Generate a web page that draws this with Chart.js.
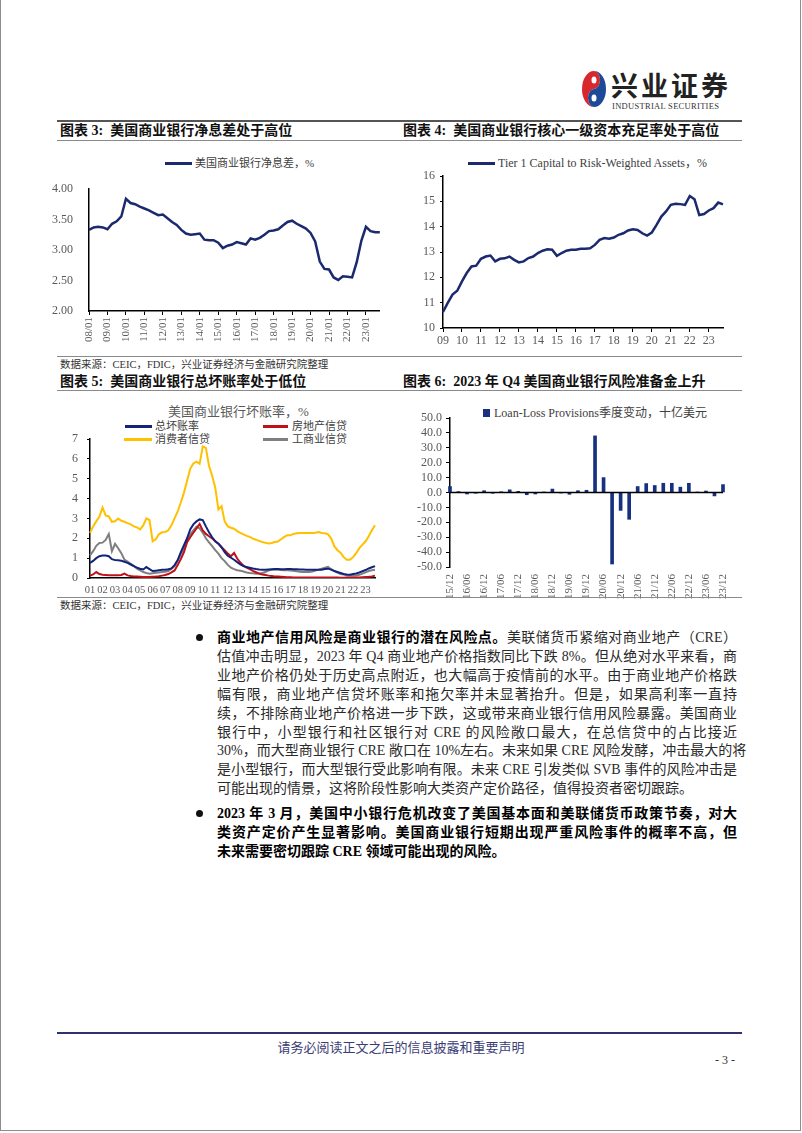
<!DOCTYPE html>
<html>
<head>
<meta charset="utf-8">
<script src="https://cdn.jsdelivr.net/npm/chart.js@4.4.0/dist/chart.umd.min.js"></script>
<style>
body{margin:0;width:802px;height:1133px;position:relative;background:#fff;overflow:hidden;
  font-family:'Liberation Serif','Noto Sans CJK SC',serif;color:#222}
.a{position:absolute;white-space:nowrap}
.hr{position:absolute;left:57px;width:685px;height:0;border-top:1px solid #8a8a8a}
.ttl{font-size:14px;line-height:16px;font-weight:bold;color:#111}
.src{font-size:10.5px;line-height:12px;color:#333}
.leg{font-size:11px;line-height:12px;color:#404040}
.ln{position:absolute;height:3px}
.para{position:absolute;left:217px;width:520px;font-size:14px;line-height:18.9px;color:#2a2a2a}
.para div{text-align:justify;text-align-last:justify;white-space:nowrap}
.para div.end{text-align-last:left}
.dot{position:absolute;left:196px;width:7px;height:7px;border-radius:50%;background:#111}
</style>
</head>
<body>
<div class="a" style="left:0;top:-2px;width:799px;height:1132px;border:1px solid #8c8c8c;border-top:none"></div>

<svg class="a" style="left:581px;top:70px" width="26" height="38" viewBox="0 0 26 38">
  <path d="M13 1 A12 18 0 0 0 13 37 A6 9 0 0 1 13 19 A6 9 0 0 0 13 1 Z" fill="#d8282e"/>
  <path d="M13 37 A12 18 0 0 0 13 1 A6 9 0 0 1 13 19 A6 9 0 0 0 13 37 Z" fill="#1d4a98"/>
  <ellipse cx="13" cy="10" rx="2.5" ry="3.5" fill="#fff"/>
  <ellipse cx="13" cy="28" rx="2.5" ry="3.5" fill="#fff"/>
</svg>
<div class="a" style="left:611px;top:72px;font-size:27px;line-height:30px;font-weight:bold;letter-spacing:3px;color:#222">兴业证券</div>
<div class="a" style="left:612px;top:101px;font-size:8.5px;line-height:10px;color:#333;letter-spacing:0.3px">INDUSTRIAL SECURITIES</div>

<div class="hr" style="top:120px;border-top:2px solid #555"></div>
<div class="a ttl" style="left:60px;top:123px">图表 3:&nbsp; 美国商业银行净息差处于高位</div>
<div class="a ttl" style="left:403px;top:123px">图表 4:&nbsp; 美国商业银行核心一级资本充足率处于高位</div>
<div class="hr" style="top:140px"></div>

<div class="ln" style="left:165px;top:162px;width:27px;background:#1b2a6e"></div>
<div class="a leg" style="left:195px;top:157px">美国商业银行净息差，%</div>
<div class="a" style="left:50px;top:150px"><canvas id="c3" width="345" height="200"></canvas></div>

<div class="ln" style="left:468px;top:162px;width:27px;background:#1b2a6e"></div>
<div class="a leg" style="left:498px;top:156px;font-size:12px;line-height:14px">Tier 1 Capital to Risk-Weighted Assets，%</div>
<div class="a" style="left:400px;top:150px"><canvas id="c4" width="340" height="200"></canvas></div>

<div class="hr" style="top:356px"></div>
<div class="a src" style="left:60px;top:359px">数据来源：CEIC，FDIC，兴业证券经济与金融研究院整理</div>
<div class="a ttl" style="left:60px;top:374px">图表 5:&nbsp; 美国商业银行总坏账率处于低位</div>
<div class="a ttl" style="left:403px;top:374px">图表 6:&nbsp; 2023 年 Q4 美国商业银行风险准备金上升</div>
<div class="hr" style="top:390px"></div>

<div class="a" style="left:168px;top:405px;font-size:13px;line-height:14px;color:#595959">美国商业银行坏账率，%</div>
<div class="ln" style="left:125px;top:425px;width:27px;background:#13237a"></div>
<div class="a leg" style="left:155px;top:420px">总坏账率</div>
<div class="ln" style="left:263px;top:425px;width:25px;background:#c0111a"></div>
<div class="a leg" style="left:292px;top:420px">房地产信贷</div>
<div class="ln" style="left:124px;top:438px;width:28px;background:#ffc000"></div>
<div class="a leg" style="left:155px;top:433px">消费者信贷</div>
<div class="ln" style="left:263px;top:438px;width:25px;background:#7f7f7f"></div>
<div class="a leg" style="left:292px;top:433px">工商业信贷</div>
<div class="a" style="left:50px;top:400px"><canvas id="c5" width="340" height="196"></canvas></div>

<div class="a" style="left:483px;top:409px;width:7px;height:8px;background:#17307f"></div>
<div class="a leg" style="left:494px;top:406px;font-size:12px;line-height:14px">Loan-Loss Provisions季度变动，十亿美元</div>
<div class="a" style="left:400px;top:400px"><canvas id="c6" width="340" height="208"></canvas></div>

<div class="hr" style="top:597px"></div>
<div class="a src" style="left:60px;top:600px">数据来源：CEIC，FDIC，兴业证券经济与金融研究院整理</div>

<div class="dot" style="top:634px"></div>
<div class="para" style="top:629px">
  <div><b style="color:#000">商业地产信用风险是商业银行的潜在风险点。</b>美联储货币紧缩对商业地产（CRE）</div>
  <div>估值冲击明显，2023 年 Q4 商业地产价格指数同比下跌 8%。但从绝对水平来看，商</div>
  <div>业地产价格仍处于历史高点附近，也大幅高于疫情前的水平。由于商业地产价格跌</div>
  <div>幅有限，商业地产信贷坏账率和拖欠率并未显著抬升。但是，如果高利率一直持</div>
  <div>续，不排除商业地产价格进一步下跌，这或带来商业银行信用风险暴露。美国商业</div>
  <div>银行中，小型银行和社区银行对 CRE 的风险敞口最大，在总信贷中的占比接近</div>
  <div>30%，而大型商业银行 CRE 敞口在 10%左右。未来如果 CRE 风险发酵，冲击最大的将</div>
  <div>是小型银行，而大型银行受此影响有限。未来 CRE 引发类似 SVB 事件的风险冲击是</div>
  <div class="end">可能出现的情景，这将阶段性影响大类资产定价路径，值得投资者密切跟踪。</div>
</div>
<div class="dot" style="top:810px"></div>
<div class="para" style="top:805px;font-weight:bold;color:#000">
  <div>2023 年 3 月，美国中小银行危机改变了美国基本面和美联储货币政策节奏，对大</div>
  <div>类资产定价产生显著影响。美国商业银行短期出现严重风险事件的概率不高，但</div>
  <div class="end">未来需要密切跟踪 CRE 领域可能出现的风险。</div>
</div>

<div class="hr" style="top:1032px;border-top:2px solid #2e3270"></div>
<div class="a" style="left:0;width:802px;text-align:center;top:1040px;font-size:13px;line-height:15px;color:#3a3d74">请务必阅读正文之后的信息披露和重要声明</div>
<div class="a" style="left:715px;top:1053px;font-size:12px;line-height:14px;color:#333">- 3 -</div>

<script>
// 净息差 (quarterly, 2008Q1 - 2023Q4)
const nimYears = ['08','09','10','11','12','13','14','15','16','17','18','19','20','21','22','23'];
const nimValues = [
  3.33,3.37,3.38,3.37,3.34,3.43,3.47,3.55,
  3.84,3.77,3.75,3.71,3.68,3.65,3.61,3.57,
  3.58,3.52,3.46,3.41,3.33,3.27,3.25,3.26,
  3.27,3.17,3.16,3.16,3.12,3.03,3.07,3.09,
  3.13,3.11,3.09,3.19,3.17,3.20,3.25,3.31,
  3.32,3.34,3.40,3.46,3.48,3.43,3.39,3.35,
  3.28,3.14,2.81,2.69,2.68,2.55,2.51,2.57,
  2.56,2.55,2.80,3.15,3.38,3.31,3.29,3.29
];

// Tier 1 capital ratio (quarterly, 2009Q1 - 2023Q4)
const t1Years = ['09','10','11','12','13','14','15','16','17','18','19','20','21','22','23'];
const t1Values = [
  10.63,10.99,11.32,11.47,11.84,12.17,12.43,12.46,
  12.73,12.82,12.86,12.63,12.73,12.75,12.82,12.69,
  12.59,12.63,12.76,12.82,12.96,13.05,13.11,13.09,
  12.85,12.96,13.05,13.09,13.09,13.13,13.13,13.15,
  13.28,13.48,13.55,13.52,13.57,13.68,13.74,13.85,
  13.90,13.87,13.74,13.65,13.77,14.07,14.40,14.60,
  14.86,14.90,14.89,14.86,15.21,15.08,14.46,14.50,
  14.64,14.73,14.95,14.88
];

// 坏账率 (quarterly, 2001Q1 - 2023Q4)
const coYears = ['01','02','03','04','05','06','07','08','09','10','11','12','13','14','15','16','17','18','19','20','21','22','23'];
const totalCO = [
  0.76,0.86,1.0,1.1,1.13,1.13,1.1,0.95,0.9,0.89,
  0.87,0.82,0.76,0.68,0.6,0.52,0.47,0.43,0.55,0.45,
  0.35,0.37,0.39,0.41,0.42,0.44,0.48,0.65,0.9,1.3,
  1.65,2.0,2.45,2.7,2.85,2.95,2.92,2.6,2.3,2.05,
  1.85,1.73,1.55,1.3,1.12,1.02,0.92,0.8,0.68,0.6,
  0.55,0.52,0.48,0.45,0.43,0.42,0.42,0.43,0.44,0.45,
  0.45,0.44,0.44,0.45,0.45,0.44,0.44,0.43,0.43,0.42,
  0.42,0.41,0.41,0.42,0.42,0.45,0.47,0.42,0.35,0.3,
  0.25,0.2,0.18,0.17,0.2,0.23,0.28,0.34,0.4,0.48,
  0.54,0.6
];
const realEstateCO = [
  0.12,0.18,0.3,0.2,0.16,0.15,0.14,0.14,0.14,0.14,
  0.15,0.22,0.13,0.1,0.08,0.07,0.06,0.05,0.05,0.05,
  0.06,0.07,0.09,0.12,0.15,0.2,0.28,0.38,0.65,0.95,
  1.3,1.8,2.05,2.28,2.5,2.72,2.4,2.22,2.1,2.0,
  1.85,1.73,1.55,1.4,1.23,1.1,1.26,0.98,0.78,0.62,
  0.52,0.45,0.36,0.29,0.22,0.18,0.15,0.12,0.1,0.08,
  0.07,0.06,0.05,0.04,0.04,0.03,0.03,0.03,0.03,0.03,
  0.02,0.02,0.03,0.03,0.02,0.02,0.02,0.03,0.02,0.02,
  0.01,0.01,0.02,0.02,0.02,0.02,0.03,0.04,0.05,0.06,
  0.08,0.12
];
const consumerCO = [
  2.27,2.6,2.85,3.1,3.55,3.15,3.1,2.83,2.86,3.0,
  2.88,2.83,2.76,2.7,2.6,2.55,2.45,2.65,3.0,2.92,
  1.85,1.95,2.2,2.3,2.32,2.4,2.65,3.0,3.35,3.8,
  4.3,4.9,5.5,5.77,5.86,5.75,6.62,6.55,5.65,5.15,
  4.55,3.45,3.62,2.85,2.6,2.53,2.48,2.36,2.27,2.2,
  2.12,2.07,1.98,1.93,1.87,1.81,1.77,1.74,1.76,1.81,
  1.84,1.95,2.07,2.15,2.15,2.22,2.25,2.27,2.27,2.27,
  2.27,2.27,2.28,2.32,2.27,2.25,2.2,2.0,1.6,1.4,
  1.28,1.05,0.92,0.92,1.05,1.25,1.5,1.68,1.85,2.1,
  2.4,2.66
];
const ciCO = [
  1.14,1.35,1.62,1.76,1.78,1.92,2.22,1.35,1.72,1.5,
  1.25,0.92,0.83,0.72,0.6,0.47,0.38,0.3,0.25,0.22,
  0.24,0.26,0.28,0.3,0.32,0.35,0.45,0.6,0.85,1.2,
  1.5,1.85,2.2,2.4,2.58,2.5,2.28,2.0,1.8,1.6,
  1.4,1.23,1.0,0.85,0.66,0.52,0.45,0.39,0.36,0.33,
  0.28,0.25,0.24,0.22,0.23,0.25,0.3,0.38,0.41,0.42,
  0.42,0.4,0.39,0.39,0.38,0.36,0.34,0.32,0.3,0.3,
  0.3,0.33,0.38,0.42,0.47,0.52,0.56,0.44,0.36,0.27,
  0.2,0.17,0.14,0.12,0.12,0.13,0.16,0.22,0.28,0.35,
  0.39,0.42
];

// Loan-loss provisions 季度变动 (15/12 - 23/12)
const llpLabels = ['15/12','16/03','16/06','16/09','16/12','17/03','17/06','17/09','17/12',
  '18/03','18/06','18/09','18/12','19/03','19/06','19/09','19/12','20/03','20/06','20/09','20/12',
  '21/03','21/06','21/09','21/12','22/03','22/06','22/09','22/12','23/03','23/06','23/09','23/12'];
const llpValues = [4.0,0.6,-1.0,-0.5,1.2,-0.5,0.5,1.8,0.8,-1.5,-1.0,0.3,2.3,-0.3,-1.2,1.2,1.5,
  38,10,-48,-12,-18,4,6,4.7,6.2,6.2,3.6,6.2,0.2,1.0,-2.3,5.3];

function quarterLabels(years, fmt) {
  const out = [];
  years.forEach(y => ['01','04','07','10'].forEach(m => out.push(fmt(y, m))));
  return out;
}
const nimLabels = quarterLabels(nimYears, (y, m) => y + '/' + m);
const t1Labels = quarterLabels(t1Years, (y, m) => y);
const coLabels = quarterLabels(coYears, (y, m) => y);

Chart.defaults.font.family = "'Liberation Serif','Noto Sans CJK SC',serif";
Chart.defaults.color = '#595959';
Chart.defaults.animation = false;
Chart.defaults.plugins.legend.display = false;
Chart.defaults.plugins.tooltip.enabled = false;

const navy = '#1b2a6e';
const everyFourth = (v, i, lbls) => i % 4 === 0 ? lbls[i] : '';

new Chart(document.getElementById('c3'), {
  type: 'line',
  data: { labels: nimLabels, datasets: [{ data: nimValues, borderColor: navy, borderWidth: 2.5, pointRadius: 0 }] },
  options: {
    responsive: false,
    layout: { padding: { top: 39, right: 8, left: 0, bottom: 0 } },
    scales: {
      x: {
        offset: false,
        grid: { drawOnChartArea: false, tickLength: 4, color: c => c.index % 4 === 0 ? '#000' : 'rgba(0,0,0,0)' },
        border: { color: '#000', width: 1.5 },
        ticks: { autoSkip: false, minRotation: 90, maxRotation: 90, padding: 2, font: { size: 11 },
                 callback: (v, i) => everyFourth(v, i, nimLabels) },
        afterFit: s => { s.height = 39; }
      },
      y: {
        min: 2, max: 4,
        grid: { display: false },
        border: { color: '#000', width: 1.5 },
        ticks: { stepSize: 0.5, autoSkip: false, padding: 8, font: { size: 12 }, callback: v => v.toFixed(2) },
        afterFit: s => { s.width = 39; }
      }
    }
  }
});

new Chart(document.getElementById('c4'), {
  type: 'line',
  data: { labels: t1Labels, datasets: [{ data: t1Values, borderColor: navy, borderWidth: 2.5, pointRadius: 0 }] },
  options: {
    responsive: false,
    layout: { padding: { top: 26, right: 17, left: 0, bottom: 0 } },
    scales: {
      x: {
        offset: false,
        grid: { drawOnChartArea: false, tickLength: 4, color: c => c.index % 4 === 0 ? '#000' : 'rgba(0,0,0,0)' },
        border: { color: '#000', width: 1.5 },
        ticks: { autoSkip: false, minRotation: 0, maxRotation: 0, padding: 2, font: { size: 12 },
                 callback: (v, i) => everyFourth(v, i, t1Labels) },
        afterFit: s => { s.height = 22; }
      },
      y: {
        min: 10, max: 16,
        grid: { drawOnChartArea: false, tickLength: 3, color: '#000' },
        border: { color: '#000', width: 1.5 },
        ticks: { stepSize: 1, autoSkip: false, padding: 5, font: { size: 12 } },
        afterFit: s => { s.width = 43; }
      }
    }
  }
});

new Chart(document.getElementById('c5'), {
  type: 'line',
  data: {
    labels: coLabels,
    datasets: [
      { label: '总坏账率', data: totalCO, borderColor: '#13237a', borderWidth: 2, pointRadius: 0 },
      { label: '房地产信贷', data: realEstateCO, borderColor: '#c0111a', borderWidth: 2, pointRadius: 0 },
      { label: '工商业信贷', data: ciCO, borderColor: '#7f7f7f', borderWidth: 2, pointRadius: 0 },
      { label: '消费者信贷', data: consumerCO, borderColor: '#ffc000', borderWidth: 2, pointRadius: 0 }
    ]
  },
  options: {
    responsive: false,
    layout: { padding: { top: 39, right: 15, left: 0, bottom: 0 } },
    scales: {
      x: {
        offset: false,
        grid: { display: false, drawTicks: false },
        border: { color: '#000', width: 1.5 },
        ticks: { autoSkip: false, minRotation: 0, maxRotation: 0, padding: 6, font: { size: 10.5 },
                 callback: (v, i) => everyFourth(v, i, coLabels) },
        afterFit: s => { s.height = 18; }
      },
      y: {
        min: 0, max: 7,
        grid: { drawOnChartArea: false, tickLength: 3, color: '#000' },
        border: { color: '#000', width: 1.5 },
        ticks: { stepSize: 1, autoSkip: false, padding: 9, font: { size: 12 } },
        afterFit: s => { s.width = 40; }
      }
    }
  }
});

const zeroLine = {
  id: 'zeroLine',
  afterDatasetsDraw(chart) {
    const y = chart.scales.y.getPixelForValue(0);
    const { left, right } = chart.chartArea;
    const ctx = chart.ctx;
    ctx.save();
    ctx.strokeStyle = '#000';
    ctx.lineWidth = 1.5;
    ctx.beginPath();
    ctx.moveTo(left, y);
    ctx.lineTo(right, y);
    ctx.stroke();
    ctx.restore();
  }
};

new Chart(document.getElementById('c6'), {
  type: 'bar',
  data: { labels: llpLabels, datasets: [{ data: llpValues, backgroundColor: '#17307f', barThickness: 3, clip: false }] },
  options: {
    responsive: false,
    layout: { padding: { top: 18, right: 17, left: 0, bottom: 0 } },
    scales: {
      x: {
        offset: false,
        grid: { display: false, tickLength: 6 },
        border: { display: false },
        ticks: { autoSkip: false, minRotation: 90, maxRotation: 90, padding: 1, font: { size: 11 },
                 callback: (v, i) => i % 2 === 0 ? llpLabels[i] : '' },
        afterFit: s => { s.height = 41; }
      },
      y: {
        min: -50, max: 50,
        grid: { drawOnChartArea: false, tickLength: 4, color: '#000' },
        border: { color: '#000', width: 1.5 },
        ticks: { stepSize: 10, autoSkip: false, padding: 4, font: { size: 12 }, callback: v => v.toFixed(1) },
        afterFit: s => { s.width = 50; }
      }
    }
  },
  plugins: [zeroLine]
});
</script>
</body>
</html>
